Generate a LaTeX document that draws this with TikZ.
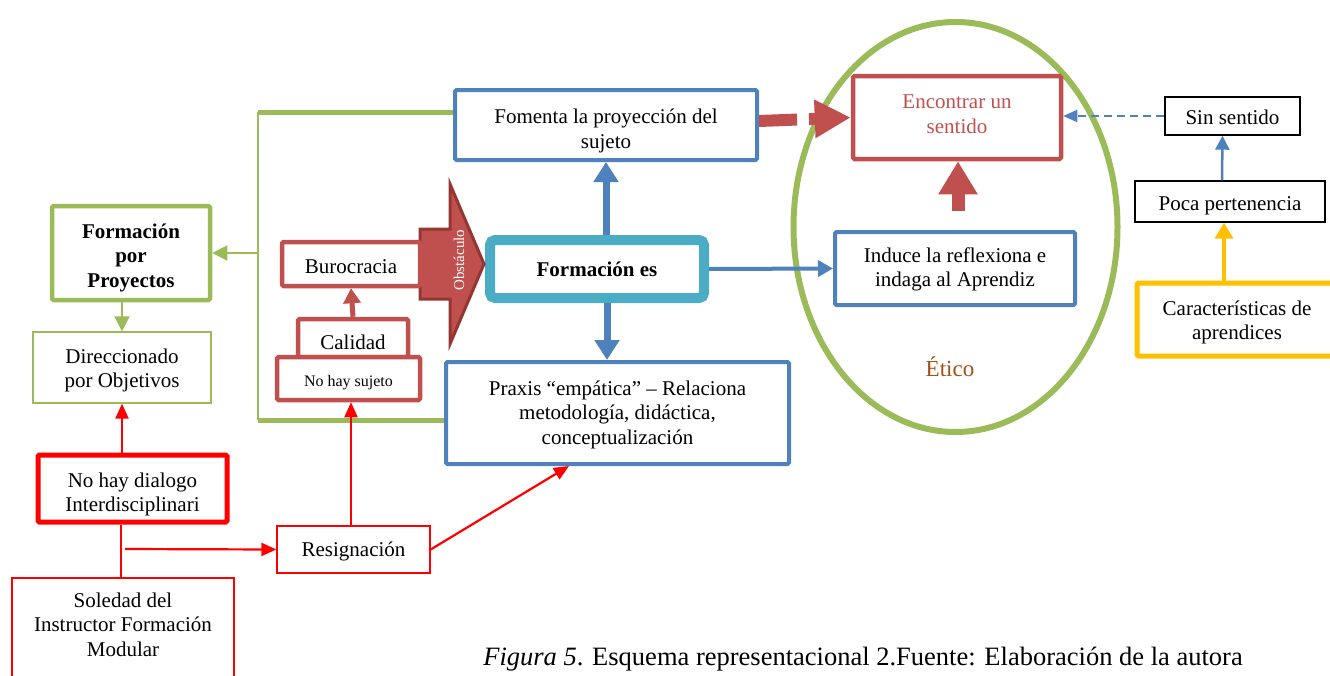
\documentclass[tikz,border=0pt]{standalone}
\usepackage{fontspec}
\setmainfont{Liberation Serif}
\usetikzlibrary{arrows.meta,shapes.geometric,calc}
\definecolor{grn}{HTML}{9BBB59}
\definecolor{blu}{HTML}{4F81BD}
\definecolor{rd}{HTML}{C0504D}
\definecolor{drd}{HTML}{943634}
\definecolor{tq}{HTML}{4BACC6}
\definecolor{ylw}{HTML}{FFC000}
\definecolor{pure}{HTML}{FF0000}
\definecolor{brn}{RGB}{160,80,20}
% centred lines of text, raised or lowered by #1 without changing the box size
\newcommand{\mline}[2]{\raisebox{#1}[\height][\depth]{\begin{tabular}{@{}c@{}}#2\end{tabular}}}
\begin{document}
\begin{tikzpicture}[x=1pt,y=-1pt,
  bx/.style={draw, fill=white, inner sep=0pt, rounded corners=1.5pt,
    font=\fontsize{21}{24.5}\selectfont},
  bluebox/.style={bx, draw=blu, line width=4pt},
  redbox/.style={bx, draw=rd, line width=4.5pt},
  thinred/.style={bx, draw=pure, line width=1.3pt, rounded corners=0pt},
  blackbox/.style={bx, draw=black, line width=1.4pt, rounded corners=0pt},
  greenline/.style={grn, line width=5pt},
  gthin/.style={grn, line width=2pt},
  redarr/.style={pure, line width=2.2pt, -{Triangle[length=15pt,width=13pt]}},
  bluearr/.style={blu, line width=7pt, -{Triangle[length=20pt,width=24pt]}},
]
\useasboundingbox (0,0) rectangle (1330,675);

% circle of the ethical dimension
\node[ellipse, draw=grn, line width=6pt, minimum width=324pt, minimum height=410pt] (etico) at (955.5,227) {};
\node[text=brn, font=\fontsize{23}{26}\selectfont] (eticolabel) at (950,367) {Ético};

% green bracket linking the two blue boxes
\coordinate (gtop) at (258,112);
\coordinate (gmid) at (258,253);
\coordinate (gbot) at (258,420);

% boxes
\node[bluebox, minimum width=302pt, minimum height=70pt] (fomenta) at (606,125) {\mline{-6pt}{Fomenta la proyección del\\sujeto}};
\node[bx, draw=tq, line width=10pt, rounded corners=5pt, minimum width=214pt, minimum height=58pt,
  font=\fontsize{21}{24.5}\selectfont\bfseries] (formes) at (597,269) {Formación es};
\node[bluebox, minimum width=343pt, minimum height=102pt] (praxis) at (617.5,413) {\mline{-2pt}{Praxis “empática” – Relaciona\\metodología, didáctica,\\conceptualización}};
\node[bluebox, minimum width=240pt, minimum height=73pt] (induce) at (955,268.5) {\mline{-1pt}{Induce la reflexiona e\\indaga al Aprendiz}};
\node[redbox, minimum width=208pt, minimum height=83pt, text=rd] (encontrar) at (957,117.5) {\mline{1.5pt}{Encontrar un\\sentido}};
\node[blackbox, minimum width=135pt, minimum height=38pt] (sinsentido) at (1232.5,116) {\mline{-4pt}{Sin sentido}};
\node[blackbox, minimum width=190pt, minimum height=41pt] (poca) at (1230,201.5) {\mline{-4pt}{Poca pertenencia}};
\node[bx, draw=ylw, line width=5pt, minimum width=200pt, minimum height=73pt] (caract) at (1237,319.5) {\mline{-3pt}{Características de\\aprendices}};

\node[bx, draw=grn, line width=4.5pt, minimum width=158pt, minimum height=94pt,
  font=\fontsize{21}{24.5}\selectfont\bfseries] (fpp) at (131,253) {\mline{-5pt}{Formación\\por\\Proyectos}};
\node[bx, draw=grn, line width=1.3pt, rounded corners=0pt, minimum width=178pt, minimum height=71pt] (direcc) at (122,367.5) {\mline{-3pt}{Direccionado\\por Objetivos}};
\node[bx, draw=pure, line width=5pt, minimum width=189pt, minimum height=67pt] (dialogo) at (132.5,488.5) {\mline{-6pt}{No hay dialogo\\Interdisciplinari}};
\node[thinred, minimum width=222pt, minimum height=112pt] (soledad) at (123,634) {\mline{7pt}{Soledad del\\Instructor Formación\\Modular}};
\node[thinred, minimum width=153pt, minimum height=47pt] (resig) at (353.5,549.5) {\mline{-2pt}{Resignación}};

% obstacle arrow
\draw[drd, fill=rd, line width=3pt, line join=miter]
  (420,229) -- (450,229) -- (450,184) -- (484,264) -- (450,344) -- (450,299) -- (420,299) -- cycle;
\node[rotate=90, text=white, font=\fontsize{15}{17}\selectfont] (obst) at (459,260) {Obstáculo};

\node[redbox, minimum width=138pt, minimum height=44pt] (buro) at (351,264) {\mline{-5pt}{Burocracia}};
\node[redbox, minimum width=110pt, minimum height=38pt] (calidad) at (353,338) {\mline{-7pt}{Calidad}};
\node[redbox, minimum width=143pt, minimum height=43pt, font=\fontsize{16}{19}\selectfont] (sujeto) at (348.5,378.5) {\mline{-4pt}{No hay sujeto}};

% green bracket
\draw[greenline] (gtop) -- (fomenta.west |- gtop);
\draw[greenline] (gbot) -- (praxis.west |- gbot);
\draw[gthin] (gtop) -- (gbot);
\draw[gthin, -{Triangle[length=15pt,width=15pt]}] (gmid) -- (fpp.east);
\draw[gthin, -{Triangle[length=15pt,width=15pt]}] (fpp.south -| direcc.north) -- (direcc.north);

% red connectors
\draw[redarr] (dialogo.north -| direcc.south) -- (direcc.south);
\coordinate (split) at (121,549);
\draw[pure, line width=2pt] (dialogo.south -| split) -- (soledad.north -| split);
\draw[redarr] ($(split)+(4,0)$) -- (resig.west);
\draw[redarr] (resig.north -| 351,0) -- (sujeto.south -| 351,0);
\draw[redarr] (resig.east) -- ($(praxis.south west)!0.36!(praxis.south east)$);
\draw[rd, line width=5pt, -{Triangle[length=15pt,width=17pt]}] (calidad.north) -- (buro.south);

% blue connectors
\draw[bluearr] (formes.north -| fomenta.south) -- (fomenta.south);
\draw[bluearr] (formes.south -| 607,0) -- (praxis.north -| 607,0);
\draw[blu, line width=4pt, -{Triangle[length=15pt,width=16pt]}] (formes.east) -- (induce.west);

% arrows into the meaning box
\draw[rd, line width=12pt, dash pattern=on 38pt off 12pt, -{Triangle[length=36pt,width=36pt]}]
  ($(fomenta.east)+(0,-4)$) -- (encontrar.west);
\draw[rd, line width=13pt, -{Triangle[length=33pt,width=37pt]}]
  ($(induce.north)+(3,-19)$) -- (encontrar.south -| 958,0);
\draw[blu, line width=2pt, dash pattern=on 8pt off 5pt, -{Triangle[length=14pt,width=12pt]}]
  (sinsentido.west) -- (encontrar.east |- sinsentido.west);

% right-hand chain
\draw[blu, line width=2.5pt, -{Triangle[length=14pt,width=14pt]}]
  ($(poca.north)+(-8,0)$) -- ($(sinsentido.south)+(-10,0)$);
\draw[ylw, line width=4pt, -{Triangle[length=16pt,width=18pt]}]
  ($(caract.north)+(-13,0)$) -- ($(poca.south)+(-6,0)$);

% caption
\node[font=\fontsize{26.5}{30}\selectfont, anchor=base] (caption) at (863,665)
  {\textit{Figura 5}. Esquema representacional 2.Fuente: Elaboración de la autora};
\end{tikzpicture}
\end{document}
